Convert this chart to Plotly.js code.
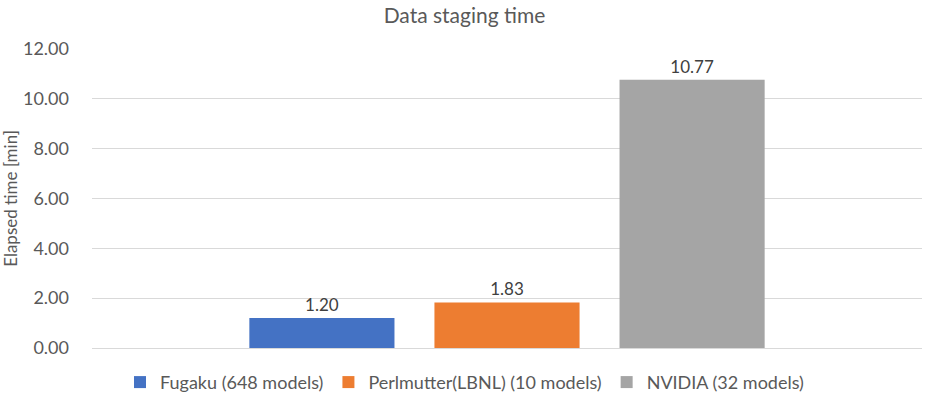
<!DOCTYPE html>
<html>
<head>
<meta charset="utf-8">
<script src="https://cdn.plot.ly/plotly-3.0.1.min.js"></script>
<style>html,body{margin:0;padding:0;background:#fff;}#chart{width:929px;height:396px;}</style>
</head>
<body>
<div id="chart"></div>
<script>
const category = [""];
const seriesNames = ["Fugaku (648 models)", "Perlmutter(LBNL) (10 models)", "NVIDIA (32 models)"];
const seriesValues = [1.20, 1.83, 10.77];
const seriesColors = ["#4472C4", "#ED7D31", "#A5A5A5"];
const yTicks = [0, 2, 4, 6, 8, 10, 12];

const font = "Lato, 'Open Sans', sans-serif";
const traces = seriesNames.map((n, i) => ({
  type: "bar",
  name: n,
  x: category,
  y: [seriesValues[i]],
  marker: {color: seriesColors[i]},
  text: [seriesValues[i].toFixed(2)],
  textposition: "outside",
  cliponaxis: false,
  textfont: {family: font, size: 17, color: "#404040"},
  hoverinfo: "none"
}));

const layout = {
  width: 929, height: 396,
  margin: {l: 92, r: 7, t: 49, b: 48, autoexpand: false},
  paper_bgcolor: "#fff", plot_bgcolor: "#fff",
  font: {family: font, color: "#595959"},
  title: {text: "Data staging time", x: 0.5, xanchor: "center", y: 0.96, yanchor: "middle",
          font: {family: font, size: 21, color: "#595959"}},
  barmode: "group",
  bargap: 0.331,
  bargroupgap: 0.216,
  xaxis: {type: "category", range: [-0.5, 0.5], showgrid: false, showticklabels: false,
          zeroline: false, showline: false, fixedrange: true},
  yaxis: {range: [0, 12], tickvals: yTicks, tickformat: ".2f", showgrid: true, gridcolor: "#D9D9D9",
          gridwidth: 1, zeroline: true, zerolinecolor: "#D9D9D9", zerolinewidth: 1,
          ticks: "", ticklabelstandoff: 22,
          tickfont: {family: font, size: 18, color: "#595959"},
          title: {text: "Elapsed time [min]", standoff: 10, font: {family: font, size: 17, color: "#595959"}}},
  showlegend: true,
  legend: {orientation: "h", xref: "container", x: 0.5, xanchor: "center", y: -0.115, yanchor: "middle",
           font: {family: font, size: 18, color: "#595959"}, traceorder: "normal",
           itemwidth: 30, itemsizing: "constant"}
};

Plotly.newPlot("chart", traces, layout, {displayModeBar: false, staticPlot: true});
</script>
</body>
</html>
